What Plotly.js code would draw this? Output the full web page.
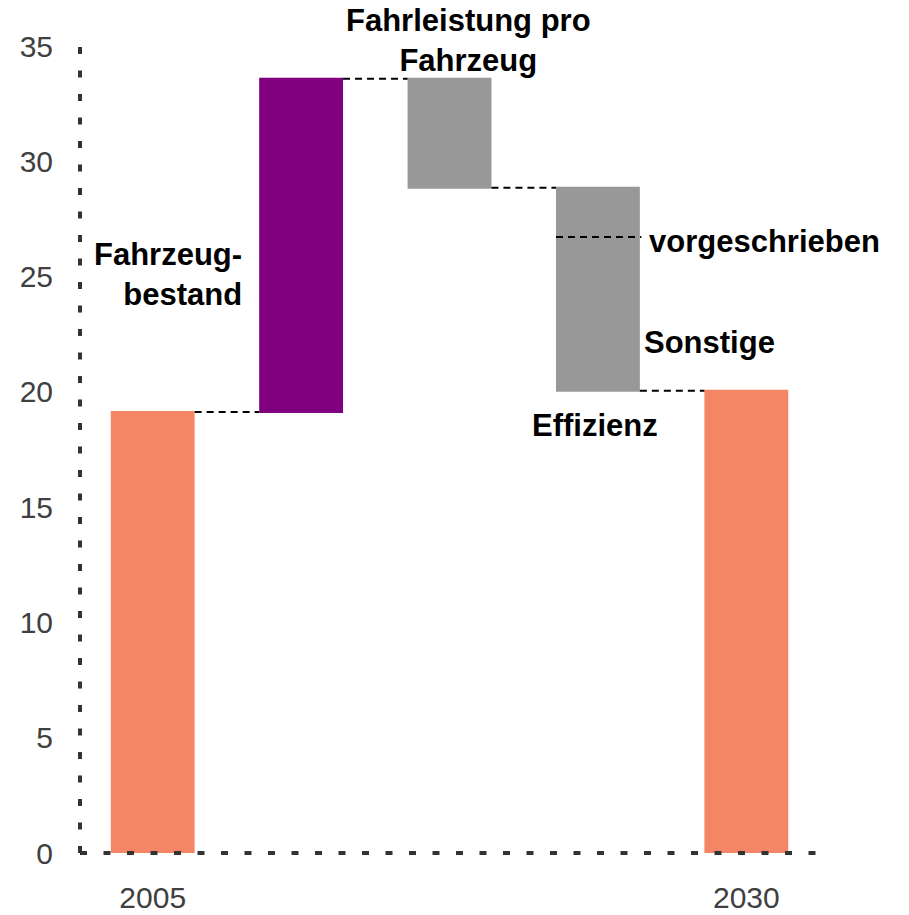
<!DOCTYPE html>
<html>
<head>
<meta charset="utf-8">
<script src="https://cdn.plot.ly/plotly-3.0.1.min.js"></script>
<style>
html,body{margin:0;padding:0;background:#fff;}
#chart{width:909px;height:915px;}
</style>
</head>
<body>
<div id="chart"></div>
<script>
// ---- data ----
const categories = ['2005', 'Fahrzeugbestand', 'Fahrleistung pro Fahrzeug', 'Effizienz', '2030'];
const values = [19.13, 14.45, -4.73, -8.80, 0];
const measures = ['absolute', 'relative', 'relative', 'relative', 'total'];
const effizienzVorgeschrieben = -2.13;   // part of the Effizienz step that is "vorgeschrieben"
const xTickLabels = ['2005', '2030'];
const xTickIndex = [0, 4];
const yTickVals = [0, 5, 10, 15, 20, 25, 30, 35];

// ---- derived ----
const xIdx = categories.map((c, i) => i);
const barWidth = 0.565;
let running = 0;
const levels = values.map((v, i) => {
  if (measures[i] === 'absolute') running = v;
  else if (measures[i] === 'relative') running += v;
  return running;
});
const effIdx = categories.indexOf('Effizienz');
const splitLevel = levels[effIdx - 1] + effizienzVorgeschrieben;

const FONT = 'Liberation Sans, Arial, sans-serif';

const trace = {
  type: 'waterfall',
  x: xIdx,
  y: values,
  measure: measures,
  width: barWidth,
  text: categories,
  textinfo: 'none',
  hoverinfo: 'x+y',
  increasing: {marker: {color: '#800080'}},
  decreasing: {marker: {color: '#989898'}},
  totals: {marker: {color: '#F48666'}},
  connector: {mode: 'between', line: {color: '#000000', width: 2, dash: '7px,5px'}},
  showlegend: false
};

const annFont = {family: FONT, size: 31, color: '#000000', weight: 'bold'};
const annotations = [
  {x: 2.13, y: 1.0065, xref: 'x', yref: 'paper', text: '<b>Fahrleistung pro<br>Fahrzeug</b>', showarrow: false,
   xanchor: 'center', yanchor: 'middle', align: 'center', font: annFont},
  {x: 0.614, y: 25.1, xref: 'x', yref: 'y', text: '<b>Fahrzeug-<br>bestand</b>', showarrow: false,
   xanchor: 'right', yanchor: 'middle', align: 'right', font: annFont},
  {x: 3.33, y: 26.5, xref: 'x', yref: 'y', text: '<b>vorgeschrieben</b>', showarrow: false,
   xanchor: 'left', yanchor: 'middle', align: 'left', font: annFont},
  {x: 3.30, y: 22.15, xref: 'x', yref: 'y', text: '<b>Sonstige</b>', showarrow: false,
   xanchor: 'left', yanchor: 'middle', align: 'left', font: annFont},
  {x: 2.98, y: 18.55, xref: 'x', yref: 'y', text: '<b>Effizienz</b>', showarrow: false,
   xanchor: 'center', yanchor: 'middle', align: 'center', font: annFont}
];

const axisDash = '7px,16.5px';
const shapes = [
  // split line inside Effizienz bar
  {type: 'line', xref: 'x', yref: 'y', x0: effIdx - barWidth / 2, x1: effIdx + barWidth / 2 + 0.01,
   y0: splitLevel, y1: splitLevel, line: {color: '#000000', width: 2, dash: '7px,5px'}, layer: 'above'},
  // dotted axes (paper refs so they are not clipped)
  {type: 'line', xref: 'paper', yref: 'paper', x0: 0, x1: 1, y0: 0, y1: 0,
   line: {color: '#333333', width: 4, dash: axisDash}, layer: 'above'},
  {type: 'line', xref: 'paper', yref: 'paper', x0: 0, x1: 0, y0: 0, y1: 1.006,
   line: {color: '#333333', width: 4, dash: axisDash}, layer: 'above'}
];

const layout = {
  width: 909,
  height: 915,
  margin: {l: 80, r: 87, t: 46, b: 62},
  paper_bgcolor: '#ffffff',
  plot_bgcolor: '#ffffff',
  font: {family: FONT, color: '#404040'},
  showlegend: false,
  xaxis: {
    range: [-0.49, 4.51],
    tickvals: xTickIndex,
    ticktext: xTickLabels,
    tickfont: {family: FONT, size: 30, color: '#404040'},
    showgrid: false, zeroline: false, showline: false, ticks: '',
    ticklabelstandoff: 24
  },
  yaxis: {
    range: [0, 35],
    tickvals: yTickVals,
    tickfont: {family: FONT, size: 30, color: '#404040'},
    showgrid: false, zeroline: false, showline: false, ticks: '',
    ticklabelstandoff: 26
  },
  annotations: annotations,
  shapes: shapes
};

Plotly.newPlot('chart', [trace], layout, {displayModeBar: false, staticPlot: true});
</script>
</body>
</html>
